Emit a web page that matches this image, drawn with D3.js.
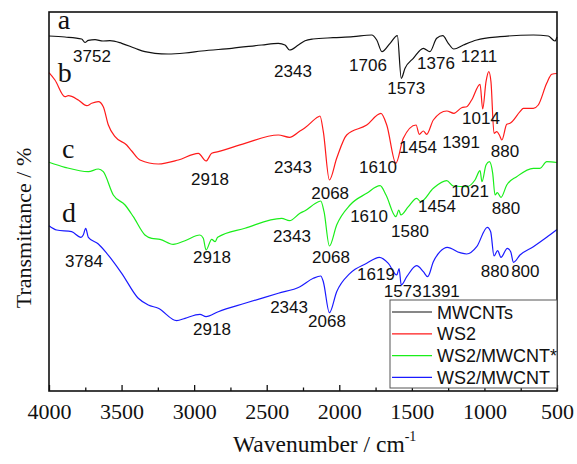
<!DOCTYPE html>
<html>
<head>
<meta charset="utf-8">
<script src="https://cdn.jsdelivr.net/npm/d3@7"></script>
<style>
  body { margin: 0; background: #fff; }
  svg { display: block; }
</style>
</head>
<body>
<svg id="chart" width="577" height="464"></svg>
<script>
"use strict";

// FTIR spectra, [wavenumber, transmittance (offset, a.u.)]
var mwcnts = [[4000,355],[3890,354],[3775,352],[3752,348.5],[3729,350.7],[3683,351.3],[3628,350],[3580,350.3],
  [3499,347.7],[3407,342.7],[3339,339.3],[3270,337.7],[3180,337],[3063,338],[2948,340],[2741,342.7],[2534,346],
  [2420,347.7],[2374,346],[2343,341],[2282,346],[2236,350.3],[2181,352],[2043,353.3],[1905,354.3],[1777,356],
  [1742,351],[1706,339.3],[1650,347.7],[1600,355.3],[1573,312.7],[1547,322.7],[1490,332.7],[1421,342.7],
  [1376,339.3],[1329,352.7],[1287,355.3],[1249,347.7],[1211,342],[1145,346],[1053,351],[893,354.3],[663,356],
  [560,355],[514,350],[500,354]];

var ws2 = [[4000,318.3],[3959,311],[3890,294.3],[3867,295.3],[3798,291],[3740,285.3],[3706,287.7],[3660,289.3],
  [3626,284.3],[3591,266],[3545,254.3],[3465,246],[3430,240],[3373,231],[3247,227],[3109,231],[2971,237.7],
  [2918,230],[2879,237.7],[2834,239.3],[2650,247.7],[2420,256],[2343,253.7],[2271,260],[2236,263.3],
  [2144,274.3],[2133,275],[2110,259.3],[2068,211],[2018,232.7],[1949,256],[1811,266],[1713,277.7],[1673,266],
  [1610,227.7],[1559,252.7],[1471,266],[1449,256.7],[1421,260],[1398,256.7],[1352,271],[1260,280],[1210,277.7],
  [1157,283.3],[1122,284.3],[1088,291],[1030,306.7],[1012,282],[989,309.3],[970,319.3],[955,309.3],[934,257.7],
  [915,259.3],[897,256],[880,251],[846,266.7],[824,267.7],[755,279.3],[732,282.7],[663,282.7],[629,286],
  [571,307.7],[536,316.7],[500,317.5]];

var ws2MwcntStar = [[4000,228.7],[3890,223.7],[3729,219.3],[3660,222],[3626,219.3],[3557,196],[3476,186],
  [3419,174.3],[3339,156],[3292,152.7],[3235,151.7],[3144,146.7],[3063,150.3],[2960,156],[2937,152.7],
  [2918,141],[2879,151.7],[2856,149.3],[2838,153.7],[2650,162.7],[2397,172.7],[2343,170.3],[2271,177.7],
  [2236,180.3],[2144,189.3],[2128,190],[2105,179.3],[2068,145],[2018,166],[1926,186],[1811,197.7],[1719,205.3],
  [1678,196],[1610,174.3],[1590,181],[1576,176],[1524,184.3],[1467,192.7],[1439,189.3],[1352,202.7],[1260,210.3],
  [1214,205],[1122,204.3],[1065,211],[1030,220.3],[1017,209.3],[989,226],[966,229.3],[943,217.7],[927,196],
  [911,198.3],[886,193.7],[846,206],[778,214.3],[663,222.7],[617,222.7],[571,229.3],[500,228.5]];

var ws2Mwcnt = [[4000,165.3],[3947,161],[3844,159.3],[3780,153.7],[3764,156],[3747,162.7],[3729,153.7],
  [3660,147],[3602,137.7],[3499,117.7],[3385,92.7],[3316,86],[3247,82.7],[3120,70.3],[3063,72.7],[2960,76.7],
  [2918,74.3],[2834,79.3],[2650,87.7],[2420,97.7],[2271,104.3],[2179,112.7],[2128,115],[2110,109.3],
  [2068,78.3],[2018,99.3],[1926,117.7],[1811,127.7],[1724,133.7],[1662,127.7],[1604,116],[1588,122.3],
  [1573,106],[1535,114.3],[1467,125.3],[1421,119.3],[1391,114.3],[1352,129.3],[1306,139.3],[1256,143.7],
  [1168,138.3],[1122,137],[1053,144.3],[980,163.7],[957,159.3],[934,135],[909,140.3],[886,133.7],[842,142.7],
  [819,139.3],[800,128.7],[755,136],[663,144.3],[571,153.7],[500,161.5]];

var seriesNames = ["MWCNTs", "WS2", "WS2/MWCNT*", "WS2/MWCNT"];
var seriesColors = ["#111111", "#ff1a1a", "#1aee1a", "#1a1aff"];
var seriesData = [mwcnts, ws2, ws2MwcntStar, ws2Mwcnt];

var curveLetters = [["a", 3940, 362], ["b", 3940, 309.5], ["c", 3910, 233], ["d", 3910, 169.5]];

// peak labels: [text, wavenumber at label centre, baseline value]
var peakLabels = [
  ["3752", 3704, 329.5], ["2343", 2319, 314], ["1706", 1802, 320.5], ["1573", 1539, 297], ["1376", 1334, 322.5], ["1211", 1037, 329.5],
  ["2918", 2891, 206], ["2343", 2319, 218], ["2068", 2063, 191.7], ["1610", 1733, 217.7], ["1454", 1458, 237.7], ["1391", 1161, 243.3], ["1014", 1024, 266.7], ["880", 858, 234.3],
  ["2918", 2877, 127.7], ["2343", 2326, 149.3], ["2068", 2057, 127.7], ["1610", 1795, 169.3], ["1580", 1513, 154.3], ["1454", 1327, 178.7], ["1021", 1099, 194.3], ["880", 851, 177],
  ["3784", 3759, 123.7], ["2918", 2877, 56], ["2343", 2346, 78], ["2068", 2085, 64.3], ["1619", 1747, 111], ["1573", 1563, 94.3], ["1391", 1300, 94.3], ["880", 927, 113.7], ["800", 718, 113.7]
];

var xTicks = [4000, 3500, 3000, 2500, 2000, 1500, 1000, 500];
var xMinorTicks = [3750, 3250, 2750, 2250, 1750, 1250, 750];

var margin = {top: 12, right: 20, bottom: 73, left: 49},
  width = 577 - margin.left - margin.right,
  height = 464 - margin.top - margin.bottom;

var svg = d3.select("#chart");
var g = svg.append("g")
  .attr("transform", "translate(" + margin.left + "," + margin.top + ")");

var x = d3.scaleLinear().domain([4000, 500]).range([0, width]);
var y = d3.scaleLinear().domain([0, 379]).range([height, 0]);

var line = d3.line()
  .x(function (d) { return x(d[0]); })
  .y(function (d) { return y(d[1]); })
  .curve(d3.curveMonotoneX);

// spectra
g.selectAll(".spectrum")
  .data(seriesData)
  .enter()
  .append("path")
  .attr("class", "spectrum")
  .attr("d", line)
  .attr("fill", "none")
  .attr("stroke", function (d, i) { return seriesColors[i]; })
  .attr("stroke-width", 1.2);

// bottom axis, ticks pointing inward
var xAxis = g.append("g")
  .attr("transform", "translate(0," + height + ")")
  .call(d3.axisBottom(x).tickValues(xTicks).tickSize(-6).tickPadding(12).tickFormat(d3.format("d")));
xAxis.select(".domain").remove();
xAxis.selectAll("text")
  .attr("font-family", "'Liberation Serif', 'Times New Roman', serif")
  .attr("font-size", 22)
  .attr("fill", "#111");
xAxis.selectAll("line").attr("stroke", "#111").attr("stroke-width", 1.3);

var xMinor = g.append("g")
  .attr("transform", "translate(0," + height + ")")
  .call(d3.axisBottom(x).tickValues(xMinorTicks).tickSize(-3.5).tickFormat(""));
xMinor.select(".domain").remove();
xMinor.selectAll("line").attr("stroke", "#111").attr("stroke-width", 1.3);

// frame
g.append("rect")
  .attr("width", width)
  .attr("height", height)
  .attr("fill", "none")
  .attr("stroke", "#111")
  .attr("stroke-width", 1.6);

// curve letters
g.selectAll(".letter")
  .data(curveLetters)
  .enter()
  .append("text")
  .attr("class", "letter")
  .attr("x", function (d) { return x(d[1]); })
  .attr("y", function (d) { return y(d[2]); })
  .attr("font-family", "'Liberation Serif', 'Times New Roman', serif")
  .attr("font-size", 28)
  .attr("fill", "#111")
  .text(function (d) { return d[0]; });

// peak labels
g.selectAll(".peak")
  .data(peakLabels)
  .enter()
  .append("text")
  .attr("class", "peak")
  .attr("x", function (d) { return x(d[1]); })
  .attr("y", function (d) { return y(d[2]); })
  .attr("text-anchor", "middle")
  .attr("font-family", "'Liberation Sans', Arial, sans-serif")
  .attr("font-size", 17)
  .attr("fill", "#111")
  .text(function (d) { return d[0]; });

// legend
var legend = g.append("g")
  .attr("transform", "translate(" + (width - 167) + "," + (height - 91) + ")");

legend.append("rect")
  .attr("width", 167)
  .attr("height", 88)
  .attr("fill", "#fff")
  .attr("stroke", "#555")
  .attr("stroke-width", 1);

var item = legend.selectAll(".item")
  .data(seriesNames)
  .enter()
  .append("g")
  .attr("class", "item")
  .attr("transform", function (d, i) { return "translate(0," + (12 + i * 21.8) + ")"; });

item.append("line")
  .attr("x1", 2)
  .attr("x2", 42)
  .attr("stroke", function (d, i) { return seriesColors[i]; })
  .attr("stroke-width", 1.2);

item.append("text")
  .attr("x", 47)
  .attr("y", 6.5)
  .attr("font-family", "'Liberation Sans', Arial, sans-serif")
  .attr("font-size", 18)
  .attr("fill", "#111")
  .text(function (d) { return d; });

// axis titles
var xTitle = svg.append("text")
  .attr("x", 233)
  .attr("y", 452)
  .attr("font-family", "'Liberation Serif', 'Times New Roman', serif")
  .attr("font-size", 23.5)
  .attr("fill", "#111");
xTitle.append("tspan").text("Wavenumber / cm");
xTitle.append("tspan").attr("dy", -11).attr("font-size", 14).text("-1");

svg.append("text")
  .attr("transform", "translate(31,228) rotate(-90)")
  .attr("text-anchor", "middle")
  .attr("font-family", "'Liberation Serif', 'Times New Roman', serif")
  .attr("font-size", 22)
  .attr("fill", "#111")
  .text("Transmittance / %");
</script>
</body>
</html>
